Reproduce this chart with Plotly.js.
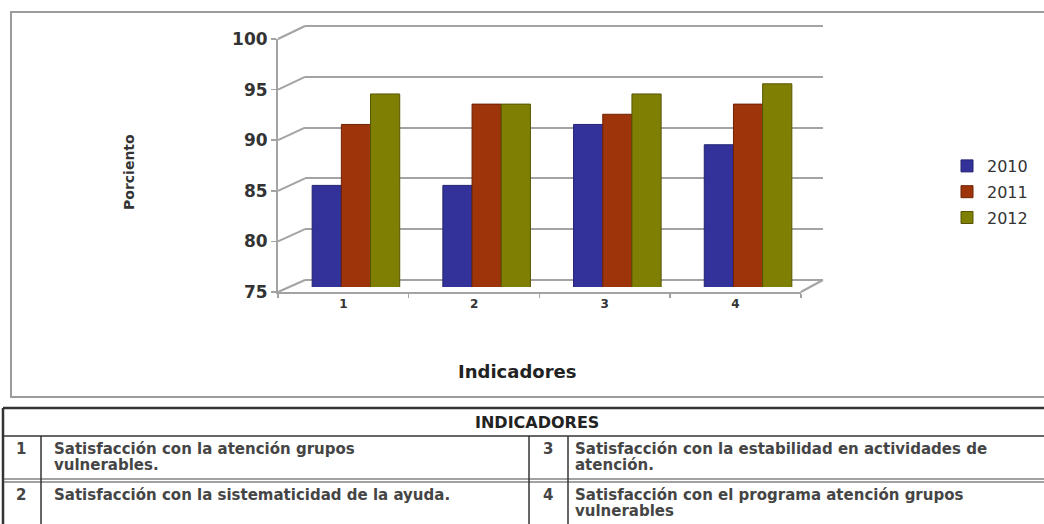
<!DOCTYPE html>
<html>
<head>
<meta charset="utf-8">
<script src="https://cdn.plot.ly/plotly-3.0.1.min.js"></script>
<style>html,body{margin:0;padding:0;background:#fff}#chart{width:1044px;height:524px}</style>
</head>
<body>
<div id="chart"></div>
<script>
// ---- data ----
const categories = ['1', '2', '3', '4'];
const seriesNames = ['2010', '2011', '2012'];
const values2010 = [85, 85, 91, 89];
const values2011 = [91, 93, 92, 93];
const values2012 = [94, 93, 94, 95];
const yTicks = [75, 80, 85, 90, 95, 100];
const yTitle = 'Porciento';
const xTitle = 'Indicadores';
const tableTitle = 'INDICADORES';
const indicatorNums = ['1', '2', '3', '4'];
const indicatorLines = [
  ['Satisfacción con la atención grupos', 'vulnerables.'],
  ['Satisfacción con la sistematicidad de la ayuda.'],
  ['Satisfacción con la estabilidad en actividades de', 'atención.'],
  ['Satisfacción con el programa atención grupos', 'vulnerables']
];

// ---- style ----
const W = 1044, H = 524;
const colors = ['#32329a', '#9e340a', '#7f7f04'];
const edge = ['#222270', '#6e2204', '#565602'];
const grid = '#a3a3a3';
const px = x => x / W;
const py = y => 1 - y / H;

const yr = [75, 100];
const frontDom = [py(292), py(39)];
// back wall: range padded slightly so the edge grid lines (75 and 100) are drawn
const backPix = [280, 26];
const pad = 0.1;
const backScale = (backPix[0] - backPix[1]) / (yr[1] - yr[0]);
const backRange = [yr[0] - pad, yr[1] + pad];
const backDom = [py(backPix[0] + pad * backScale), py(backPix[1] - pad * backScale)];
const frontAt = v => frontDom[0] + (v - yr[0]) / (yr[1] - yr[0]) * (frontDom[1] - frontDom[0]);
const backAt = v => py(backPix[0] - (v - yr[0]) * backScale);

const allValues = [values2010, values2011, values2012];
const traces = [
  {type: 'scatter', x: [], y: [], xaxis: 'x', yaxis: 'y', showlegend: false, hoverinfo: 'skip'},
  {type: 'scatter', x: categories, y: categories.map(() => null), xaxis: 'x2', yaxis: 'y2', showlegend: false, hoverinfo: 'skip'}
];
seriesNames.forEach((n, i) => traces.push({
  type: 'bar', name: n, x: categories, y: allValues[i], xaxis: 'x3', yaxis: 'y3',
  marker: {color: colors[i], line: {color: edge[i], width: 1}},
  legendgroup: n
}));

const shapes = [];
// chart border
shapes.push({type: 'rect', xref: 'paper', yref: 'paper', x0: px(11), x1: px(1060), y0: py(12), y1: py(397),
  line: {color: '#9c9c9c', width: 2}, layer: 'below'});
// 3D wall connectors
yTicks.forEach(v => shapes.push({type: 'line', xref: 'paper', yref: 'paper',
  x0: px(278), y0: frontAt(v), x1: px(305), y1: backAt(v),
  line: {color: grid, width: 2}, layer: 'below'}));
shapes.push({type: 'line', xref: 'paper', yref: 'paper',
  x0: px(800.8), y0: frontAt(75), x1: px(823), y1: backAt(75),
  line: {color: grid, width: 2}, layer: 'below'});
// table lines
const tl = (x0, y0, x1, y1, w, c) => shapes.push({type: 'line', xref: 'paper', yref: 'paper',
  x0: px(x0), y0: py(y0), x1: px(x1), y1: py(y1), line: {color: c || '#333', width: w}});
tl(3, 408, 1060, 408, 2.5);
tl(3, 408, 3, 530, 2.5);
tl(3, 436, 1060, 436, 1.5);
tl(3, 479, 1060, 479, 1.2, '#444');
tl(3, 482, 1060, 482, 1.2, '#444');
tl(41, 436, 41, 530, 1.5);
tl(529, 436, 529, 530, 1.5);
tl(568, 436, 568, 530, 1.5);

const ann = (text, x, y, font, extra) => Object.assign({text: text, x: px(x), y: py(y), xref: 'paper', yref: 'paper',
  showarrow: false, xanchor: 'center', yanchor: 'middle', font: font}, extra || {});
const annotations = [
  ann(yTitle, 129, 172, {size: 14, weight: 'bold', color: '#333'}, {textangle: -90}),
  ann(xTitle, 517, 371, {size: 18, weight: 'bold', color: '#222'}),
  ann(tableTitle, 537, 422, {size: 16, weight: 'bold', color: '#222'})
];
const numX = [21, 21, 548, 548];
const txtX = [52, 52, 573, 573];
const rowY = [449, 495, 449, 495];
const cellFont = {size: 15, weight: 'bold', color: '#454545'};
indicatorNums.forEach((n, i) => {
  annotations.push(ann(n, numX[i], rowY[i], cellFont));
  indicatorLines[i].forEach((ln, j) => annotations.push(ann(ln, txtX[i], rowY[i] + j * 15.5, cellFont, {xanchor: 'left'})));
});

const layout = {
  width: W, height: H, margin: {l: 0, r: 0, t: 0, b: 0},
  paper_bgcolor: '#fff', plot_bgcolor: 'rgba(0,0,0,0)',
  font: {family: 'DejaVu Sans', color: '#333'},
  barmode: 'group', bargap: 0.33, bargroupgap: 0,
  xaxis: {domain: [px(305), px(823)], anchor: 'y', range: [0, 1], showgrid: false, zeroline: false,
    showline: false, showticklabels: false, ticks: ''},
  yaxis: {domain: backDom, anchor: 'x', range: backRange, tickvals: yTicks, showgrid: true, gridcolor: grid, gridwidth: 2,
    zeroline: false, showline: false, showticklabels: false, ticks: ''},
  xaxis2: {type: 'category', domain: [px(278), px(800.8)], anchor: 'y2', range: [-0.5, 3.5],
    showline: true, linecolor: grid, linewidth: 2, ticks: 'outside', tickson: 'boundaries', ticklen: 4,
    tickcolor: grid, tickwidth: 1.5, showgrid: false, zeroline: false,
    tickfont: {size: 12, weight: 'bold', color: '#333'}},
  yaxis2: {domain: frontDom, anchor: 'x2', range: yr, tickvals: yTicks, showline: true, linecolor: grid, linewidth: 2,
    ticks: 'outside', ticklen: 5, tickcolor: grid, tickwidth: 1.5, showgrid: false, zeroline: false,
    tickfont: {size: 17, weight: 'bold', color: '#333'}},
  xaxis3: {type: 'category', domain: [px(290.6), px(813.4)], anchor: 'y3', range: [-0.5, 3.5],
    visible: false},
  yaxis3: {domain: [py(287), py(33)], anchor: 'x3', range: yr, visible: false},
  legend: {x: px(947), y: py(149), xanchor: 'left', yanchor: 'top', tracegroupgap: 2,
    font: {size: 16, color: '#333'}, bgcolor: 'rgba(0,0,0,0)'},
  shapes: shapes,
  annotations: annotations
};

Plotly.newPlot('chart', traces, layout, {displayModeBar: false, staticPlot: true});
</script>
</body>
</html>
